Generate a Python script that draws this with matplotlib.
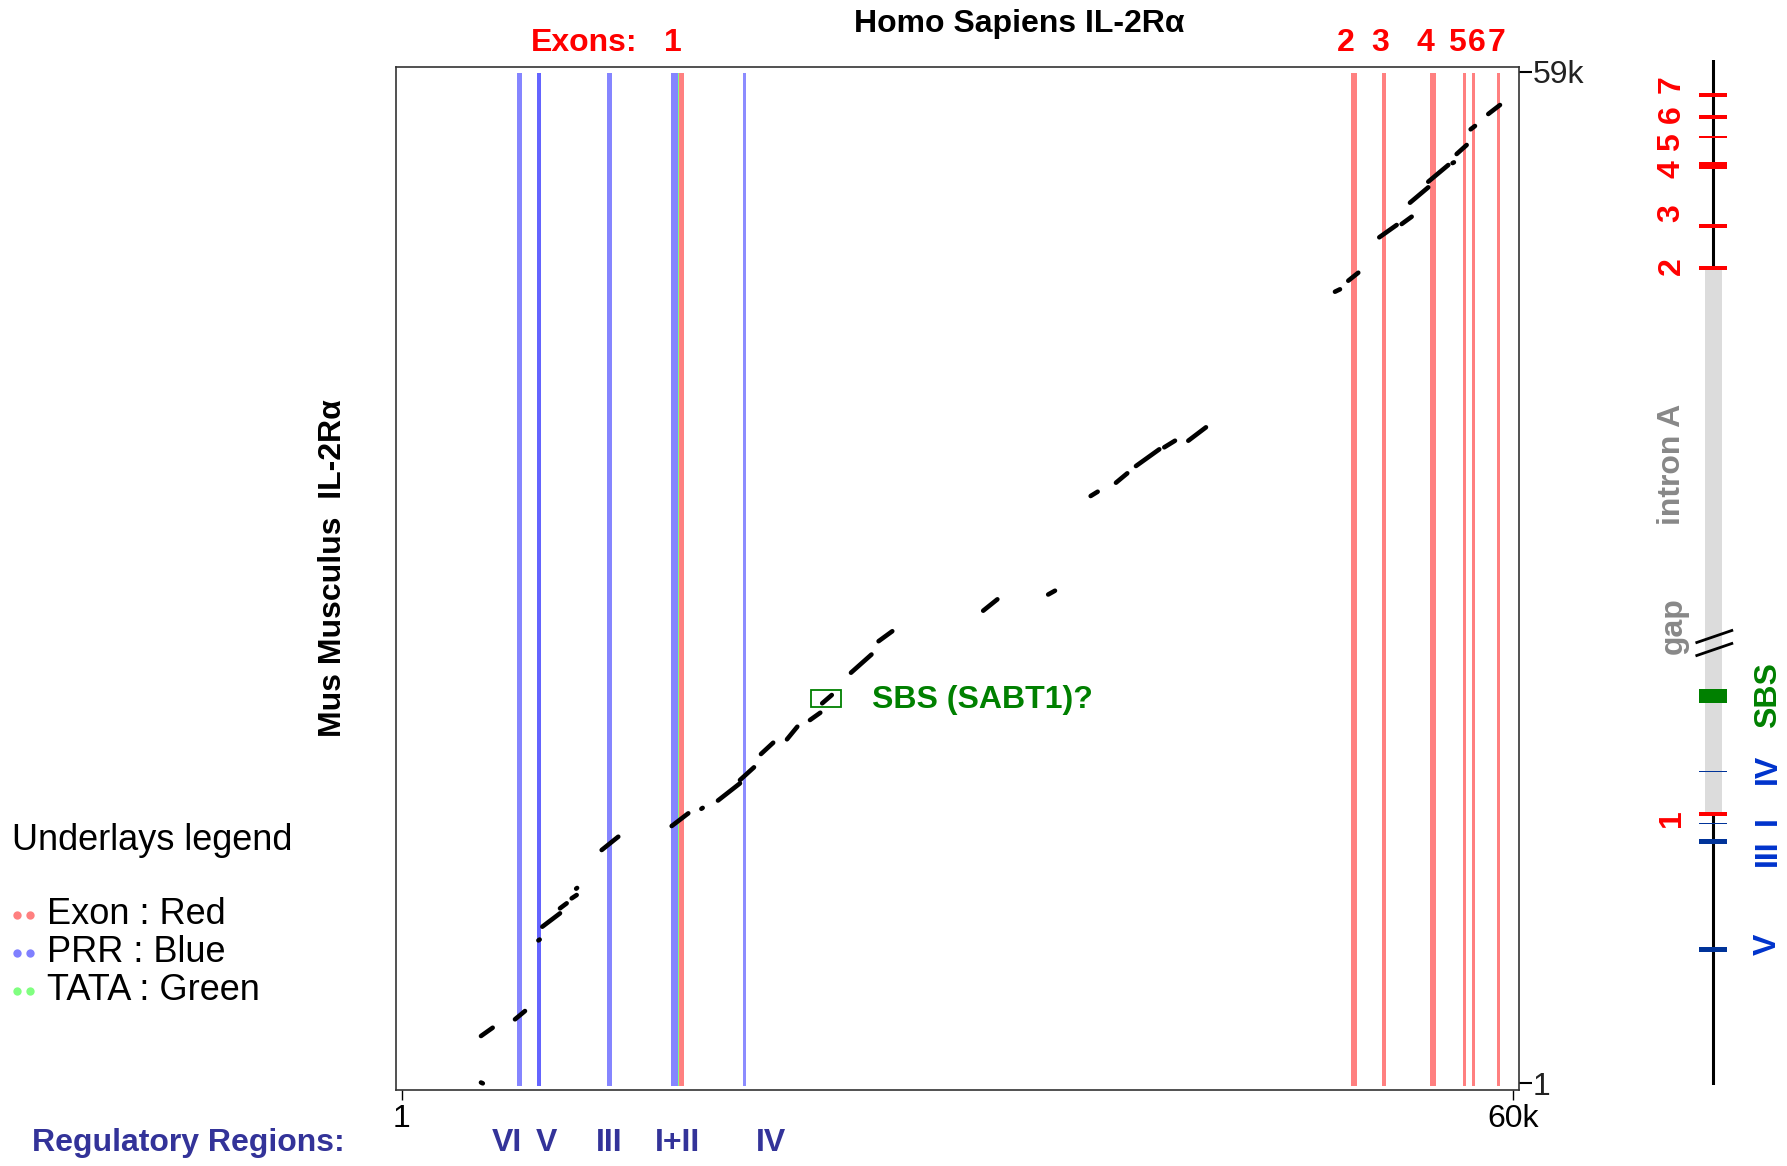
import matplotlib
matplotlib.use('Agg')
import matplotlib.pyplot as plt
import matplotlib.transforms as mtransforms
from matplotlib.lines import Line2D
from matplotlib.patches import Rectangle

plt.rcParams['font.family'] = ['Liberation Sans', 'DejaVu Sans']

# ---------------- data (human bp on x, mouse bp on y) ----------------
prr_centers = [6360, 7397, 11219, 14712, 18492]
prr_widths = [302, 216, 302, 378, 162]
prr_colors = ['#8585ff', '#6464ff', '#8585ff', '#8585ff', '#8c8cff']
tata_centers = [14934]
tata_widths = [70]
exon_centers = [15099, 51393, 53024, 55697, 57382, 57856, 59211]
exon_widths = [254, 324, 243, 324, 162, 162, 162]

exon_labels = ['1', '2', '3', '4', '5', '6', '7']
exon_label_x = [14648, 50967, 52819, 55249, 56960, 58040, 59120]

reg_labels = ['VI', 'V', 'III', 'I+II', 'IV']
reg_label_x = [5688, 7835, 11193, 14902, 19940]

# dot-plot match segments: (x0, y0, x1, y1)
segments = [
    (4280, 30, 4380, -20),
    (4282, 2742, 4913, 3226),
    (6117, 3716, 6657, 4200),
    (7380, 8320, 7450, 8370),
    (7591, 9119, 8547, 9900),
    (8547, 10192, 8908, 10484),
    (9178, 10775, 9448, 10968),
    (9420, 11340, 9470, 11380),
    (10798, 13593, 11694, 14369),
    (14577, 14993, 15474, 15734),
    (16180, 16000, 16250, 16050),
    (17077, 16481, 18265, 17484),
    (18265, 17677, 19021, 18418),
    (19399, 19194, 20058, 19853),
    (20803, 20052, 21359, 20787),
    (22045, 21177, 22601, 21603),
    (22703, 22152, 23221, 22636),
    (24258, 23937, 25364, 24999),
    (25748, 25775, 26488, 26358),
    (31396, 27554, 32162, 28219),
    (34905, 28499, 35272, 28721),
    (37199, 34246, 37577, 34497),
    (38565, 35022, 39175, 35570),
    (39645, 35996, 40903, 36970),
    (41173, 37087, 41751, 37472),
    (42469, 37472, 43424, 38254),
    (50389, 46164, 50659, 46305),
    (51107, 46806, 51647, 47273),
    (52781, 49338, 53720, 50056),
    (53990, 50114, 54530, 50540),
    (54439, 51357, 55426, 52255),
    (55426, 52582, 56506, 53556),
    (56740, 53670, 56810, 53710),
    (56959, 54198, 57499, 54723),
    (57715, 55639, 57948, 55831),
    (58666, 56532, 59298, 57057),
]

sbs_box = (22100, 21940, 23720, 22930)

# mouse gene schematic (position along schematic track)
sch_exon_labels = ['1', '2', '3', '4', '5', '6', '7']
sch_exon_pos = [271, 816.7, 859.3, 919.3, 948.3, 967.7, 990]
sch_exon_size = [4, 4, 4, 7, 1.7, 4, 4]
sch_exon_label_pos = [267, 819.3, 871.5, 915.5, 943.3, 970.5, 1000.5]
sch_prr_labels = ['IV', 'I', 'III', 'V']
sch_prr_pos = [313.3, 261.7, 243.3, 135.7]
sch_prr_size = [1.5, 1.5, 5, 5]
sch_prr_label_pos = [316, 264, 232, 141]
sch_sbs_pos = 389
sch_sbs_size = 14
sch_gap_pos = 442
sch_top = 1025

W, H = 1787, 1166
fig = plt.figure(figsize=(W / 100, H / 100), dpi=100)
fig.patch.set_facecolor('white')

ax = fig.add_axes([395.7 / W, 1 - 1090 / H, (1519 - 395.7) / W, (1090 - 67) / H])
ax.set_xlim(-323, 60325)
ax.set_ylim(-407, 59274)

span_bottom, span_top = -150, 58950
ax.bar(prr_centers, span_top - span_bottom, width=prr_widths, bottom=span_bottom,
       color=prr_colors, linewidth=0, zorder=1)
ax.bar(exon_centers, span_top - span_bottom, width=exon_widths, bottom=span_bottom,
       color='#ff8080', linewidth=0, zorder=1)
ax.bar(tata_centers, span_top - span_bottom, width=tata_widths, bottom=span_bottom,
       color='#80ff80', linewidth=0, zorder=1.5)

for x0, y0, x1, y1 in segments:
    ax.plot([x0, x1], [y0, y1], color='black', lw=3.3, solid_capstyle='round', zorder=3)

ax.add_patch(Rectangle((sbs_box[0], sbs_box[1]), sbs_box[2] - sbs_box[0], sbs_box[3] - sbs_box[1],
                       fill=False, edgecolor='#008000', lw=1.3, zorder=4))
ax.text(25390, 22345, 'SBS (SABT1)?', color='#008000', fontsize=23, fontweight='bold',
        ha='left', va='center')

for s in ax.spines.values():
    s.set_color('#333333')
    s.set_linewidth(1.2)

ax.set_xticks([1, 60000])
ax.set_xticklabels(['1', '60k'])
ax.yaxis.tick_right()
ax.set_yticks([1, 59000])
ax.set_yticklabels(['1', '59k'])
ax.tick_params(axis='x', direction='out', length=7, width=1, labelsize=23, pad=3, colors='black')
ax.tick_params(axis='y', direction='out', length=9, width=1.5, labelsize=23, pad=1, colors='black')
for lab in ax.get_yticklabels():
    lab.set_color('#222222')

# labels placed at data x, figure y
blend = mtransforms.blended_transform_factory(ax.transData, fig.transFigure)
for lab, xv in zip(exon_labels, exon_label_x):
    ax.text(xv, 1 - 43 / H, lab, transform=blend, color='red', fontsize=23,
            fontweight='bold', ha='center', va='center', clip_on=False)
ax.text(6980, 1 - 43 / H, 'Exons:', transform=blend, color='red', fontsize=23,
        fontweight='bold', ha='left', va='center', clip_on=False)

for lab, xv in zip(reg_labels, reg_label_x):
    ax.text(xv, 1 - 1143 / H, lab, transform=blend, color='#333399', fontsize=23,
            fontweight='bold', ha='center', va='center', clip_on=False)
fig.text(32 / W, 1 - 1143 / H, 'Regulatory Regions:', color='#333399', fontsize=23,
         fontweight='bold', ha='left', va='center')

fig.text(1019 / W, 1 - 24 / H, 'Homo Sapiens IL-2R\u03b1', fontsize=23, fontweight='bold',
         ha='center', va='center')
fig.text(333 / W, 1 - 568 / H, 'Mus Musculus  IL-2R\u03b1', fontsize=23, fontweight='bold',
         ha='center', va='center', rotation=90)

# underlays legend
fig.text(12 / W, 1 - 840 / H, 'Underlays legend', fontsize=26, ha='left', va='center')
legend_items = [('Exon : Red', '#ff8080'), ('PRR : Blue', '#8080ff'), ('TATA : Green', '#80ff80')]
legend_y = [915, 953, 991]
for (txt, col), yy in zip(legend_items, legend_y):
    fig.text(47 / W, 1 - yy / H, txt, fontsize=26, ha='left', va='center')
    fig.add_artist(Line2D([17 / W, 30 / W], [1 - yy / H, 1 - yy / H], transform=fig.transFigure,
                          linestyle='none', marker='o', markersize=6, color=col,
                          markeredgewidth=0))

# ---------------- mouse gene schematic ----------------
ax2 = fig.add_axes([1640 / W, 1 - 1085 / H, 147 / W, 1025 / H])
ax2.set_xlim(-73.3, 73.7)
ax2.set_ylim(0, 1025)
ax2.axis('off')
ax2.plot([0, 0], [0, sch_top], color='black', lw=2.2, zorder=1)
ax2.bar(0, sch_exon_pos[1] - sch_exon_pos[0], width=17, bottom=sch_exon_pos[0],
        color='#dcdcdc', linewidth=0, zorder=2)
ax2.barh(sch_exon_pos, 28, height=sch_exon_size, left=-14, color='#ff0000', linewidth=0, zorder=3)
ax2.barh(sch_prr_pos, 28, height=sch_prr_size, left=-14, color='#003399', linewidth=0, zorder=3)
ax2.barh([sch_sbs_pos], 28, height=sch_sbs_size, left=-14, color='#008000', linewidth=0, zorder=3)
for off in (6.5, -6.5):
    ax2.plot([-16.5, 18.5], [sch_gap_pos + off - 6, sch_gap_pos + off + 6], color='black',
             lw=2, zorder=4)

for lab, yy in zip(sch_exon_labels, sch_exon_label_pos):
    ax2.text(-41.8, yy, lab, color='red', fontsize=23, fontweight='bold', rotation=90,
             ha='center', va='center')
for lab, yy in zip(sch_prr_labels, sch_prr_label_pos):
    ax2.text(54.7, yy, lab, color='#0033cc', fontsize=23, fontweight='bold', rotation=90,
             ha='center', va='center')
ax2.text(54.7, 390, 'SBS', color='#008000', fontsize=23, fontweight='bold', rotation=90,
         ha='center', va='center')
ax2.text(-41.6, 621, 'intron A', color='#888888', fontsize=23, fontweight='bold', rotation=90,
         ha='center', va='center')
ax2.text(-40, 459, 'gap', color='#888888', fontsize=23, fontweight='bold', rotation=90,
         ha='center', va='center')

fig.savefig('out.png', dpi=100)
